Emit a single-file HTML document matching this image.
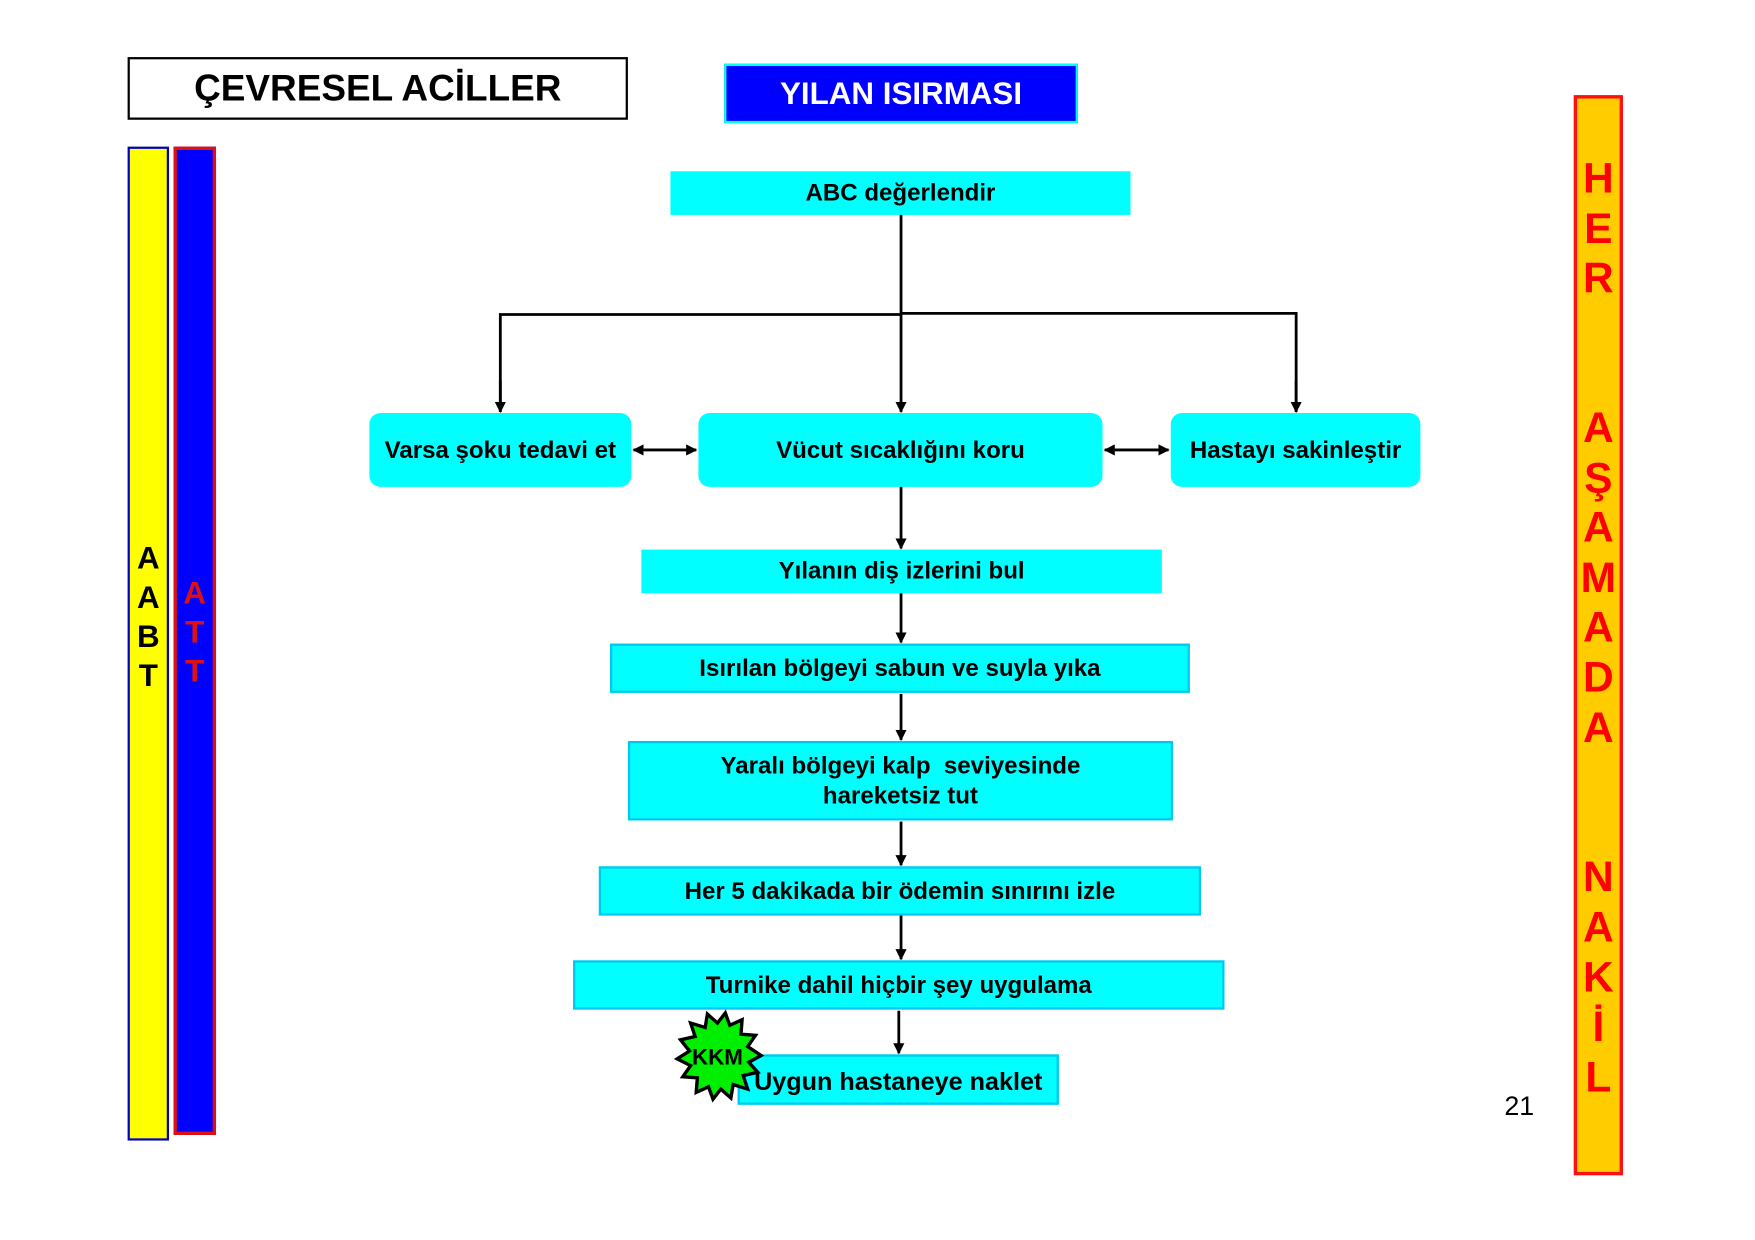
<!DOCTYPE html>
<html><head><meta charset="utf-8"><style>
html,body{margin:0;padding:0;background:#fff;width:1755px;height:1240px;overflow:hidden}
#s{position:absolute;left:0;top:0;width:1568px;height:1108px;transform:scale(1.1193);transform-origin:0 0;font-family:"Liberation Sans",Arial,sans-serif;font-weight:bold}
.b{position:absolute;box-sizing:border-box;display:flex;align-items:center;justify-content:center;text-align:center;color:#000;white-space:nowrap}
.c{background:#00ffff}
.cb{background:#00ffff;border:2px solid #00c8f0}
.r{background:#00ffff;border-radius:10px}
.t{font-size:21.5px}
.l{position:absolute;left:0;width:100%;text-align:center}
</style></head><body><div id="s">
<div class="b" style="left:114px;top:51px;width:447px;height:56px;border:2px solid #000;font-size:33px">ÇEVRESEL ACİLLER</div>
<div class="b" style="left:647px;top:57px;width:316px;height:53px;background:#0000ff;border:2px solid #00ffff;color:#fff;font-size:28px">YILAN ISIRMASI</div>

<div style="position:absolute;left:114px;top:131px;width:37px;height:888px;box-sizing:border-box;background:#ffff00;border:2px solid #0000cc;font-size:28px;color:#000">
<div class="l" style="top:348px;line-height:35px">A<br>A<br>B<br>T</div></div>
<div style="position:absolute;left:155px;top:131px;width:38px;height:883px;box-sizing:border-box;background:#0000ff;border:3px solid #e01010;font-size:28px;color:#e01010">
<div class="l" style="top:378px;line-height:35px">A<br>T<br>T</div></div>

<div style="position:absolute;left:1406px;top:85px;width:44px;height:965px;box-sizing:border-box;background:#ffcc00;border:3px solid #ff1010;font-size:38px;color:#ff0000">
<div class="l" style="top:50px;line-height:44.6px">H<br>E<br>R<br><br><br>A<br>Ş<br>A<br>M<br>A<br>D<br>A<br><br><br>N<br>A<br>K<br>İ<br>L</div></div>

<div class="b c t" style="left:599px;top:153px;width:411px;height:39px">ABC değerlendir</div>
<div class="b r t" style="left:330px;top:369px;width:234px;height:66px">Varsa şoku tedavi et</div>
<div class="b r t" style="left:624px;top:369px;width:361px;height:66px">Vücut sıcaklığını koru</div>
<div class="b r t" style="left:1046px;top:369px;width:223px;height:66px">Hastayı sakinleştir</div>
<div class="b c t" style="left:573px;top:491px;width:465px;height:39px">Yılanın diş izlerini bul</div>
<div class="b cb t" style="left:545px;top:575px;width:518px;height:44px">Isırılan bölgeyi sabun ve suyla yıka</div>
<div class="b cb t" style="left:561px;top:662px;width:487px;height:71px;line-height:27px">Yaralı bölgeyi kalp&nbsp; seviyesinde<br>hareketsiz tut</div>
<div class="b cb t" style="left:535px;top:774px;width:538px;height:44px">Her 5 dakikada bir ödemin sınırını izle</div>
<div class="b cb t" style="left:512px;top:858px;width:582px;height:44px">Turnike dahil hiçbir şey uygulama</div>
<div class="b cb" style="left:659px;top:942px;width:287px;height:45px;font-size:22.5px;padding-top:4px">Uygun hastaneye naklet</div>

<svg style="position:absolute;left:0;top:0" width="1568" height="1108">
<defs><marker id="a" markerWidth="10" markerHeight="10" refX="9" refY="5" orient="auto" markerUnits="userSpaceOnUse"><path d="M0,0L10,5L0,10z" fill="#000"/></marker>
<marker id="a2" markerWidth="10" markerHeight="10" refX="1" refY="5" orient="auto" markerUnits="userSpaceOnUse"><path d="M10,0L0,5L10,10z" fill="#000"/></marker></defs>
<g stroke="#000" stroke-width="2.5" fill="none">
<line x1="805" y1="192" x2="805" y2="368" marker-end="url(#a)"/>
<polyline points="447,368 447,281 805,281"/>
<polyline points="805,280 1158,280 1158,368"/>
<line x1="447" y1="340" x2="447" y2="368" marker-end="url(#a)"/>
<line x1="1158" y1="340" x2="1158" y2="368" marker-end="url(#a)"/>
<line x1="566" y1="402" x2="622" y2="402" marker-start="url(#a2)" marker-end="url(#a)"/>
<line x1="987" y1="402" x2="1044" y2="402" marker-start="url(#a2)" marker-end="url(#a)"/>
<line x1="805" y1="435" x2="805" y2="490" marker-end="url(#a)"/>
<line x1="805" y1="530" x2="805" y2="574" marker-end="url(#a)"/>
<line x1="805" y1="620" x2="805" y2="661" marker-end="url(#a)"/>
<line x1="805" y1="734" x2="805" y2="773" marker-end="url(#a)"/>
<line x1="805" y1="818" x2="805" y2="857" marker-end="url(#a)"/>
<line x1="803" y1="903" x2="803" y2="941" marker-end="url(#a)"/>
</g>
<polygon fill="#00ee00" stroke="#000" stroke-width="3" points="
680,943 669,949 677,958 664,961 668,973 655,969 653,981 644,973 637,982 633,971 622,976 623,963 610,962 617,952 605,946 616,939 608,929 621,926 617,914 630,918 632,906 641,914 648,905 652,916 663,911 662,924 675,925 668,935"/>
<text x="641" y="951" font-size="20" font-weight="bold" text-anchor="middle" fill="#000" font-family="Liberation Sans, Arial, sans-serif">KKM</text>
</svg>
<div style="position:absolute;left:1344px;top:975px;font-size:24px;font-weight:normal">21</div>
</div></body></html>
